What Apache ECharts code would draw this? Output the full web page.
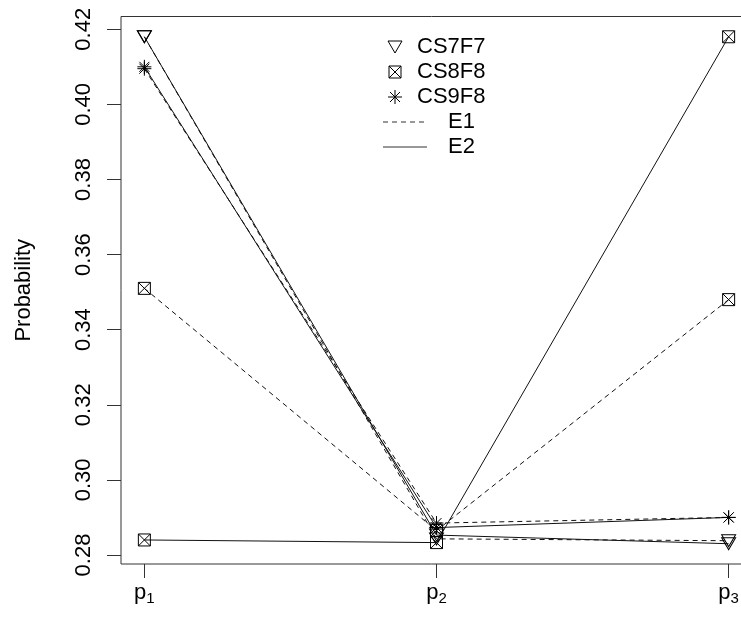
<!DOCTYPE html>
<html>
<head>
<meta charset="utf-8">
<script src="https://cdn.jsdelivr.net/npm/echarts@6/dist/echarts.min.js"></script>
<style>html,body{margin:0;padding:0;background:#fff}#c{width:741px;height:620px}</style>
</head>
<body>
<div id="c"></div>
<script>
// ---- data ----
const xPos = [1, 2, 3];
const xSub = ['1', '2', '3'];
const cs7f7_E1 = [0.418, 0.2843, 0.2838];
const cs7f7_E2 = [0.418, 0.2853, 0.2830];
const cs8f8_E1 = [0.351, 0.2865, 0.348];
const cs8f8_E2 = [0.284, 0.2833, 0.418];
const cs9f8_E1 = [0.4095, 0.2885, 0.2900];
const cs9f8_E2 = [0.4100, 0.2873, 0.2900];
const yTicks = [0.28, 0.30, 0.32, 0.34, 0.36, 0.38, 0.40, 0.42];
const legendNames = ['CS7F7', 'CS8F8', 'CS9F8', 'E1', 'E2'];

const FONT = "'Liberation Sans', Arial, sans-serif";
const TRI = 'path://M0,0 L14,0 L7,12 Z';
const SQX = 'path://M0,0 L12,0 L12,12 L0,12 Z M0,0 L12,12 M12,0 L0,12';
const AST = 'path://M7,0 L7,14 M0,7 L14,7 M2,2 L12,12 M12,2 L2,12';

const all = [].concat(cs7f7_E1, cs7f7_E2, cs8f8_E1, cs8f8_E2, cs9f8_E1, cs9f8_E2);
const dMin = Math.min.apply(null, all), dMax = Math.max.apply(null, all);
const pad = 0.04 * (dMax - dMin);

function mk(name, vals, symbol, size, dashed) {
  return {
    name: name, type: 'line',
    data: vals.map((v, i) => [xPos[i], v]),
    symbol: symbol, symbolSize: size,
    showAllSymbol: true,
    itemStyle: { color: 'none', borderColor: '#000', borderWidth: 1 },
    lineStyle: { color: '#111', width: 1, type: dashed ? [5, 4] : 'solid' },
    emphasis: { disabled: true },
    silent: true
  };
}

const chart = echarts.init(document.getElementById('c'));
const lx = 395;
const rows = [47, 72, 97, 122, 147];
chart.setOption({
  animation: false,
  backgroundColor: '#fff',
  grid: { left: 121, top: 16.5, bottom: 56, right: -11, show: true, borderColor: '#333', borderWidth: 1, containLabel: false, outerBoundsMode: 'none' },
  xAxis: {
    type: 'value', min: 1 - 0.08, max: 3 + 0.08,
    axisLine: { show: false },
    splitLine: { show: false },
    axisTick: { show: true, inside: false, length: 14, lineStyle: { color: '#333', width: 1 }, customValues: xPos },
    axisLabel: {
      margin: 16, customValues: xPos,
      formatter: function (v) { return '{p|p}{s|' + xSub[xPos.indexOf(Math.round(v))] + '}'; },
      rich: {
        p: { fontSize: 22, fontFamily: FONT, color: '#000', lineHeight: 26 },
        s: { fontSize: 15, fontFamily: FONT, color: '#000', lineHeight: 15, padding: [12, 0, 0, 0] }
      }
    }
  },
  yAxis: {
    type: 'value', min: dMin - pad, max: dMax + pad,
    name: 'Probability', nameLocation: 'middle', nameGap: 86,
    nameTextStyle: { fontSize: 22, fontFamily: FONT, color: '#000' },
    axisLine: { show: false },
    splitLine: { show: false },
    axisTick: { show: true, inside: false, length: 14, lineStyle: { color: '#333', width: 1 }, customValues: yTicks },
    axisLabel: {
      rotate: 90, margin: 26, customValues: yTicks,
      fontSize: 22, fontFamily: FONT, color: '#000',
      formatter: function (v) { return v.toFixed(2); }
    }
  },
  series: [
    mk('CS7F7 E1', cs7f7_E1, TRI, [14, 12], true),
    mk('CS7F7 E2', cs7f7_E2, TRI, [14, 12], false),
    mk('CS8F8 E1', cs8f8_E1, SQX, 12, true),
    mk('CS8F8 E2', cs8f8_E2, SQX, 12, false),
    mk('CS9F8 E1', cs9f8_E1, AST, 14, true),
    mk('CS9F8 E2', cs9f8_E2, AST, 14, false)
  ],
  graphic: [
    { type: 'polygon', shape: { points: [[lx - 7, rows[0] - 6], [lx + 7, rows[0] - 6], [lx, rows[0] + 6]] }, style: { fill: 'none', stroke: '#000', lineWidth: 1 } },
    { type: 'rect', shape: { x: lx - 6, y: rows[1] - 6, width: 12, height: 12 }, style: { fill: 'none', stroke: '#000', lineWidth: 1 } },
    { type: 'line', shape: { x1: lx - 6, y1: rows[1] - 6, x2: lx + 6, y2: rows[1] + 6 }, style: { stroke: '#000', lineWidth: 1 } },
    { type: 'line', shape: { x1: lx + 6, y1: rows[1] - 6, x2: lx - 6, y2: rows[1] + 6 }, style: { stroke: '#000', lineWidth: 1 } },
    { type: 'line', shape: { x1: lx, y1: rows[2] - 7, x2: lx, y2: rows[2] + 7 }, style: { stroke: '#000', lineWidth: 1 } },
    { type: 'line', shape: { x1: lx - 7, y1: rows[2], x2: lx + 7, y2: rows[2] }, style: { stroke: '#000', lineWidth: 1 } },
    { type: 'line', shape: { x1: lx - 5, y1: rows[2] - 5, x2: lx + 5, y2: rows[2] + 5 }, style: { stroke: '#000', lineWidth: 1 } },
    { type: 'line', shape: { x1: lx + 5, y1: rows[2] - 5, x2: lx - 5, y2: rows[2] + 5 }, style: { stroke: '#000', lineWidth: 1 } },
    { type: 'line', shape: { x1: 383, y1: rows[3], x2: 427, y2: rows[3] }, style: { stroke: '#333', lineWidth: 1, lineDash: [5, 4] } },
    { type: 'line', shape: { x1: 383, y1: rows[4], x2: 427, y2: rows[4] }, style: { stroke: '#333', lineWidth: 1 } },
    { type: 'text', x: 417, y: rows[0], style: { text: legendNames[0], font: '22px ' + FONT, fill: '#000', verticalAlign: 'middle' } },
    { type: 'text', x: 417, y: rows[1], style: { text: legendNames[1], font: '22px ' + FONT, fill: '#000', verticalAlign: 'middle' } },
    { type: 'text', x: 417, y: rows[2], style: { text: legendNames[2], font: '22px ' + FONT, fill: '#000', verticalAlign: 'middle' } },
    { type: 'text', x: 448, y: rows[3], style: { text: legendNames[3], font: '22px ' + FONT, fill: '#000', verticalAlign: 'middle' } },
    { type: 'text', x: 448, y: rows[4], style: { text: legendNames[4], font: '22px ' + FONT, fill: '#000', verticalAlign: 'middle' } }
  ]
});
</script>
</body>
</html>
